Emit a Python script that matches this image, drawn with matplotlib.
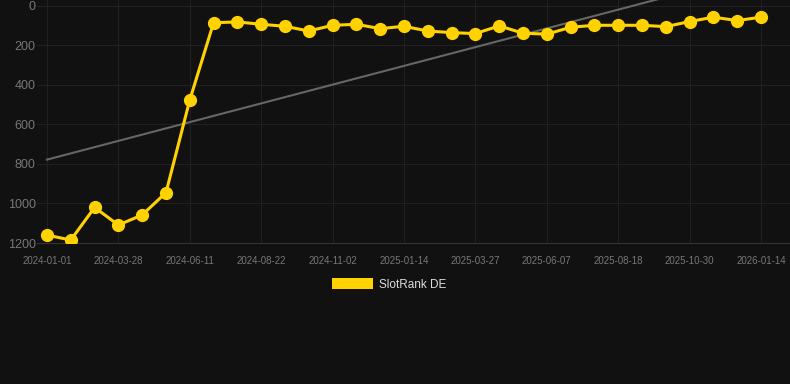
import matplotlib
matplotlib.use("Agg")
import matplotlib.pyplot as plt
from matplotlib.patches import Rectangle
import numpy as np

plt.rcParams['font.family'] = ['Liberation Sans', 'DejaVu Sans']

tick_labels = ["2024-01-01", "2024-03-28", "2024-06-11", "2024-08-22", "2024-11-02",
               "2025-01-14", "2025-03-27", "2025-06-07", "2025-08-18", "2025-10-30",
               "2026-01-14"]
rank_de = [1160, 1185, 1020, 1109, 1058, 945, 476, 85, 81, 93,
           103, 127, 98, 93, 115, 103, 127, 135, 140, 101,
           138, 143, 108, 98, 98, 98, 105, 79, 57, 74, 57]
series_name = "SlotRank DE"

BG = '#111111'
YELLOW = '#FFD200'

x = np.arange(len(rank_de))
coef = np.polyfit(x, rank_de, 1)
trend = np.polyval(coef, x)

fig = plt.figure(figsize=(7.9, 3.84), dpi=100, facecolor=BG)
ax = fig.add_axes([37/790, (384-243)/384, (790-37)/790, 243/384])
ax.set_facecolor(BG)

ax.plot(x, trend, color='#666666', lw=1.5, zorder=2)
ax.plot(x, rank_de, color=YELLOW, lw=2.2, marker='o', markersize=8.5,
        markerfacecolor=YELLOW, markeredgecolor=YELLOW, zorder=3)

ax.set_ylim(1200, -30)
ax.set_xlim(-0.42, 31.22)
ax.set_yticks([0, 200, 400, 600, 800, 1000, 1200])
ax.set_xticks(x[::3])
ax.set_xticklabels(tick_labels)

ax.grid(True, color='#202020', lw=0.8, zorder=0)
for s in ['top', 'right', 'left']:
    ax.spines[s].set_visible(False)
ax.spines['bottom'].set_color('#333333')
ax.tick_params(axis='both', length=0, colors='#777777')
ax.tick_params(axis='y', labelsize=9, pad=1)
ax.tick_params(axis='x', labelsize=7, pad=9)

fig.patches.append(Rectangle((332/790, (384-289)/384), 41/790, 11/384,
                             transform=fig.transFigure, facecolor=YELLOW,
                             edgecolor='none'))
fig.text(379/790, (384-285)/384, series_name, color='#dddddd', fontsize=8.5,
         va='center', ha='left')

fig.savefig('out.png', dpi=100, facecolor=BG)
